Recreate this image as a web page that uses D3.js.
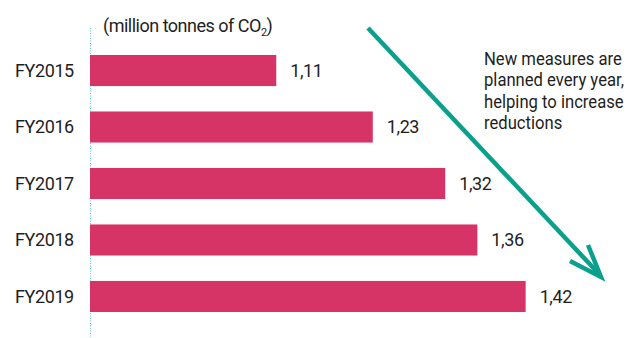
<!DOCTYPE html>
<html><head><meta charset="utf-8">
<script src="https://cdn.jsdelivr.net/npm/d3@7"></script>
<style>
html,body{margin:0;padding:0;background:#fff;}
svg{display:block;font-family:Roboto,"Noto Sans",sans-serif;}
</style></head>
<body>
<svg id="chart" width="630" height="338"></svg>
<script>
const categories = ["FY2015","FY2016","FY2017","FY2018","FY2019"];
const values = [1.11,1.23,1.32,1.36,1.42];
const valueLabels = ["1,11","1,23","1,32","1,36","1,42"];
const unitLabel = "(million tonnes of CO";
const noteLines = ["New measures are","planned every year,","helping to increase","reductions"];

const svg = d3.select("#chart");
const x = d3.scaleLinear().domain([0.8785, 1.5]).range([90, 590]);
const y = d3.scaleBand().domain(categories).range([42, 325]).paddingInner(0.45).paddingOuter(0.23);

// axis line
svg.append("line").attr("x1",90.5).attr("x2",90.5).attr("y1",28).attr("y2",338)
  .attr("stroke","#5cc9c0").attr("stroke-width",1).attr("stroke-dasharray","1,1.5");

svg.selectAll("rect.bar").data(values).join("rect").attr("class","bar")
  .attr("x",x(x.domain()[0])).attr("y",(d,i)=>y(categories[i]))
  .attr("width",d=>x(d)-x(x.domain()[0])).attr("height",y.bandwidth())
  .attr("fill","#d63366");

svg.selectAll("text.cat").data(categories).join("text").attr("class","cat")
  .attr("x",15).attr("y",d=>y(d)+y.bandwidth()/2).attr("dy","0.36em")
  .attr("font-size",18).attr("letter-spacing",-0.4).attr("fill","#1e1e1e").text(d=>d);

svg.selectAll("text.val").data(values).join("text").attr("class","val")
  .attr("x",d=>x(d)+14).attr("y",(d,i)=>y(categories[i])+y.bandwidth()/2).attr("dy","0.36em")
  .attr("font-size",18).attr("letter-spacing",-0.4).attr("fill","#1e1e1e").text((d,i)=>valueLabels[i]);

const t = svg.append("text").attr("x",103).attr("y",32).attr("font-size",18).attr("letter-spacing",-0.5).attr("fill","#1e1e1e");
t.append("tspan").text(unitLabel);
t.append("tspan").attr("font-size",11).attr("dy",4).text("2");
t.append("tspan").attr("dy",-4).text(")");

const noteG = svg.append("g").attr("transform","translate(484,0) scale(0.9,1)");
const note = noteG.append("text").attr("font-size",18.5).attr("fill","#1e1e1e");
noteLines.forEach((l,i)=>note.append("tspan").attr("x",0).attr("y",65+i*21.4).text(l));

// arrow
const teal = "#0aa08c";
svg.append("line").attr("x1",368).attr("y1",28).attr("x2",600).attr("y2",275)
  .attr("stroke",teal).attr("stroke-width",4.5);
svg.append("path").attr("d","M570,261 L601,277 L588,245")
  .attr("fill","none").attr("stroke",teal).attr("stroke-width",4.5).attr("stroke-linejoin","miter");
</script>
</body></html>
